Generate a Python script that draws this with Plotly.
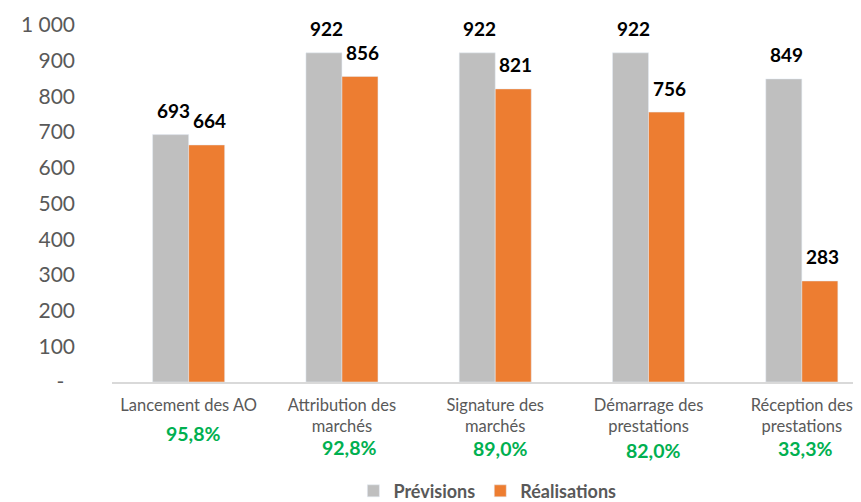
import plotly.graph_objects as go

categories = ["Lancement des AO", "Attribution des<br>marchés", "Signature des<br>marchés",
              "Démarrage des<br>prestations", "Réception des<br>prestations"]
previsions = [693, 922, 922, 922, 849]
realisations = [664, 856, 821, 756, 283]
tick_vals = [0, 100, 200, 300, 400, 500, 600, 700, 800, 900, 1000]
tick_text = ["-\u00a0\u00a0", "100", "200", "300", "400", "500", "600", "700", "800", "900", "1 000"]

GRAY = "#bfbfbf"
ORANGE = "#ed7d31"
GREEN = "#00b050"
TXT = "#595959"
FONT = "Lato"

x_idx = list(range(len(categories)))

fig = go.Figure()
fig.add_trace(go.Bar(x=x_idx, y=previsions, name="Prévisions", marker_color=GRAY))
fig.add_trace(go.Bar(x=x_idx, y=realisations, name="Réalisations", marker_color=ORANGE))

annotations = []
for i, (p, r) in enumerate(zip(previsions, realisations)):
    annotations.append(dict(x=i, y=p, xref="x", yref="y", text=f"<b>{p}</b>", showarrow=False,
                            xshift=-15.5, yshift=24, yanchor="middle",
                            font=dict(family=FONT, size=19, color="black")))
    annotations.append(dict(x=i, y=r, xref="x", yref="y", text=f"<b>{r}</b>", showarrow=False,
                            xshift=20.5, yshift=24, yanchor="middle",
                            font=dict(family=FONT, size=19, color="black")))

pct_dx = [4, 7.5, 4.5, 4, 3]
pct_dy = [51, 65, 66, 68, 66]
for i, (p, r) in enumerate(zip(previsions, realisations)):
    pct = f"{r / p * 100:.1f}".replace(".", ",") + "%"
    annotations.append(dict(x=i, y=0, xref="x", yref="paper", text=f"<b>{pct}</b>", showarrow=False,
                            xshift=pct_dx[i], yshift=-pct_dy[i], yanchor="middle",
                            font=dict(family=FONT, size=19.5, color=GREEN)))

fig.update_layout(
    width=853, height=494,
    margin=dict(l=104, r=0, t=17, b=120),
    paper_bgcolor="white", plot_bgcolor="white",
    barmode="group", bargap=0.53, bargroupgap=0,
    font=dict(family=FONT, color=TXT),
    annotations=annotations,
    legend=dict(orientation="h", xref="container", yref="container", x=0.562, xanchor="center",
                y=0.022, yanchor="middle", font=dict(family=FONT, size=18, color=TXT, weight="bold"),
                itemwidth=30),
    xaxis=dict(tickmode="array", tickvals=x_idx, ticktext=categories, range=[-0.5, 4.386],
               showline=True, linecolor="#d9d9d9", linewidth=1.5, showgrid=False,
               ticks="", ticklabelstandoff=7, tickfont=dict(family=FONT, size=16.5, color=TXT)),
    yaxis=dict(range=[0, 1000], tickmode="array", tickvals=tick_vals, ticktext=tick_text,
               showgrid=False, zeroline=False, showline=False, ticks="",
               ticklabelstandoff=36, tickfont=dict(family=FONT, size=21, color=TXT)),
)

fig.write_html("out.html")
